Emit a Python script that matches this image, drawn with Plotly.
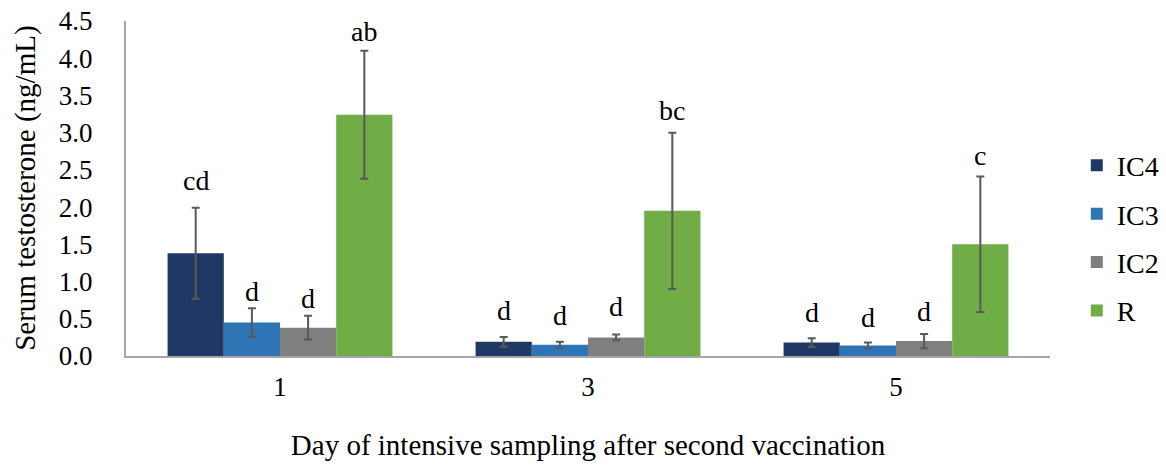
import plotly.graph_objects as go

# Sampling days after second vaccination
days = ["1", "3", "5"]

# Mean serum testosterone (ng/mL) per treatment group
ic4 = [1.38, 0.19, 0.18]
ic3 = [0.45, 0.15, 0.14]
ic2 = [0.38, 0.25, 0.20]
r_grp = [3.24, 1.95, 1.50]

# Error (+/-) per group
ic4_err = [0.61, 0.065, 0.06]
ic3_err = [0.19, 0.04, 0.04]
ic2_err = [0.16, 0.04, 0.095]
r_err = [0.86, 1.05, 0.91]

# Significance letters
ic4_sig = ["cd", "d", "d"]
ic3_sig = ["d", "d", "d"]
ic2_sig = ["d", "d", "d"]
r_sig = ["ab", "bc", "c"]

series = [
    ("IC4", ic4, ic4_err, ic4_sig, "#203864"),
    ("IC3", ic3, ic3_err, ic3_sig, "#2E75B6"),
    ("IC2", ic2, ic2_err, ic2_sig, "#7F7F7F"),
    ("R", r_grp, r_err, r_sig, "#70AD47"),
]

# pixel gap between error-bar top and the letter, per series/day
label_gap = [[10, 9, 8], [-1, 9, 8], [0, 10, 5], [2, 5, 4]]

FONT = "Liberation Serif, Times New Roman, serif"
BARGAP = 0.27

fig = go.Figure()
for k, (name, vals, errs, sig, col) in enumerate(series):
    fig.add_trace(go.Bar(
        name=name, x=days, y=vals,
        marker=dict(color=col, line=dict(width=0)),
        error_y=dict(type="data", array=errs, visible=True,
                     color="#595959", thickness=2, width=4),
        legendgroup=name,
    ))

n = len(series)
bw = (1 - BARGAP) / n
annotations = []
for k, (name, vals, errs, sig, col) in enumerate(series):
    off = -(1 - BARGAP) / 2 + bw * (k + 0.5)
    for i, (v, e, s) in enumerate(zip(vals, errs, sig)):
        annotations.append(dict(
            x=i + off, y=v + e, xref="x", yref="y",
            text=s, showarrow=False, yanchor="bottom",
            yshift=label_gap[k][i],
            font=dict(family=FONT, size=28, color="#000000"),
        ))

# vertical axis title, set as a rotated annotation left of the tick labels
annotations.append(dict(
    text="Serum testosterone (ng/mL)", textangle=-90,
    xref="paper", yref="paper", x=-0.109, y=0.5,
    xanchor="center", yanchor="middle", showarrow=False,
    font=dict(family=FONT, size=29, color="#000000"),
))

fig.update_layout(
    width=1166, height=466,
    margin=dict(l=126, r=116, t=21, b=110, autoexpand=False),
    paper_bgcolor="white", plot_bgcolor="white",
    barmode="group", bargap=BARGAP, bargroupgap=0,
    font=dict(family=FONT, size=28, color="#000000"),
    annotations=annotations,
    legend=dict(x=1.029, y=0.352, xanchor="left", yanchor="middle",
                font=dict(family=FONT, size=28, color="#000000"),
                tracegroupgap=9, itemwidth=30, bgcolor="rgba(0,0,0,0)"),
    xaxis=dict(
        showline=True, linecolor="#A6A6A6", linewidth=2,
        ticks="", tickfont=dict(family=FONT, size=27, color="#000000"),
        ticklabelstandoff=6, automargin=True,
        title=dict(text="Day of intensive sampling after second vaccination",
                   font=dict(family=FONT, size=29, color="#000000"), standoff=33),
    ),
    yaxis=dict(
        range=[0, 4.5], dtick=0.5, tickformat=".1f",
        showline=True, linecolor="#A6A6A6", linewidth=2,
        showgrid=False, zeroline=False, ticks="", automargin=True,
        tickfont=dict(family=FONT, size=27, color="#000000"),
        ticklabelstandoff=26,
    ),
)

fig.write_html("out.html")
